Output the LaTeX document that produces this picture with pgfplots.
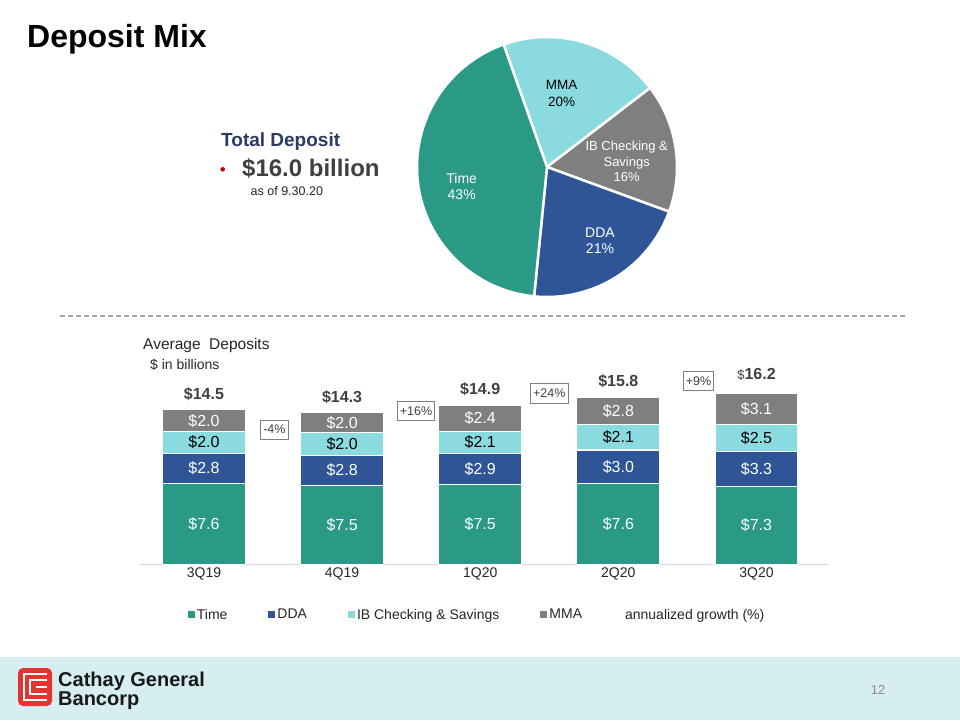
\documentclass[border=0pt]{standalone}
\usepackage{pgfplots}
\pgfplotsset{compat=1.18}
\usepackage{pgfplotstable}
\usepackage{fontspec}
\setmainfont{Liberation Sans}
\definecolor{cteal}{HTML}{2A9A87}
\definecolor{cblue}{HTML}{2F5597}
\definecolor{ccyan}{HTML}{8ADBDF}
\definecolor{cgray}{HTML}{7F7F7F}
\definecolor{navy}{HTML}{2B3A67}
\definecolor{dgray}{HTML}{404040}
\definecolor{band}{HTML}{D6EEF2}
\definecolor{logored}{HTML}{E3342F}

% average deposits ($ billions): bar heights and printed labels
\pgfplotstableread{
x time tl dda dl ib il mma ml tot
0 7.6  7.6 2.8  2.8 2.0  2.0 2.05 2.0 14.5
1 7.35 7.5 2.85 2.8 2.1  2.0 1.9  2.0 14.3
2 7.5  7.5 2.9  2.9 2.0  2.1 2.5  2.4 14.9
3 7.55 7.6 3.15 3.0 2.35 2.1 2.6  2.8 15.8
4 7.3  7.3 3.25 3.3 2.55 2.5 2.9  3.1 16.2
}\deposits

% annualized growth labels (position between bars)
\pgfplotstableread{
x y g
0.51 12.6 -4
1.535 14.35 +16
2.50 16.0 +24
3.58 17.15 +9
}\growth

\begin{document}
\begin{tikzpicture}
\path[fill=white] (0pt,0pt) rectangle (960pt,-720pt);

% title
\node[anchor=base west, inner sep=0pt, font=\bfseries\fontsize{32}{36}\selectfont] at (27pt,-47pt) {Deposit Mix};

% total deposit block
\node[anchor=base west, inner sep=0pt, text=navy, font=\bfseries\fontsize{19}{22}\selectfont] at (221pt,-146.7pt) {Total Deposit};
\fill[red!75!black] (222.7pt,-169.3pt) circle (2.3pt);
\node[anchor=base west, inner sep=0pt, text=dgray, font=\bfseries\fontsize{24}{28}\selectfont] at (242pt,-176pt) {\$16.0 billion};
\node[anchor=base west, inner sep=0pt, text=black!85, font=\fontsize{12.5}{14}\selectfont] at (250.5pt,-195.7pt) {as of 9.30.20};

% pie chart
\begin{axis}[at={(547pt,-167pt)}, anchor=center, scale only axis,
  width=280pt, height=280pt, xmin=-140, xmax=140, ymin=-140, ymax=140,
  hide axis, clip=false]
\fill[ccyan, draw=white, line width=2.5pt, line join=round] (axis cs:0,0) -- (axis cs:{130*cos(109.5)},{130*sin(109.5)}) arc[start angle=109.5, end angle={109.5-3.6*20}, radius=130pt] -- cycle;
\fill[cgray, draw=white, line width=2.5pt, line join=round] (axis cs:0,0) -- (axis cs:{130*cos(37.5)},{130*sin(37.5)}) arc[start angle=37.5, end angle={37.5-3.6*16}, radius=130pt] -- cycle;
\fill[cblue, draw=white, line width=2.5pt, line join=round] (axis cs:0,0) -- (axis cs:{130*cos(-20.1)},{130*sin(-20.1)}) arc[start angle=-20.1, end angle={-20.1-3.6*21}, radius=130pt] -- cycle;
\fill[cteal, draw=white, line width=2.5pt, line join=round] (axis cs:0,0) -- (axis cs:{130*cos(-95.7)},{130*sin(-95.7)}) arc[start angle=-95.7, end angle={-95.7-3.6*43}, radius=130pt] -- cycle;
\node[align=center, text=black, font=\fontsize{13.5}{16.5}\selectfont] at (axis cs:14.7,73.7) {MMA\\20\%};
\node[align=center, text=white, font=\fontsize{13}{15.5}\selectfont] at (axis cs:79.7,5.3) {IB Checking \&\\Savings\\16\%};
\node[align=center, text=white, font=\fontsize{14}{16.5}\selectfont] at (axis cs:53,-73.7) {DDA\\21\%};
\node[align=center, text=white, font=\fontsize{14}{16.5}\selectfont] at (axis cs:-85.3,-19.7) {Time\\43\%};
\end{axis}

% dashed separator
\draw[black!35, dash pattern=on 5pt off 3pt, line width=1.2pt] (60pt,-316pt) -- (905pt,-316pt);

% bar chart captions
\node[anchor=base west, inner sep=0pt, text=black!85, font=\fontsize{15.5}{18}\selectfont] at (143pt,-349pt) {Average\ \ Deposits};
\node[anchor=base west, inner sep=0pt, text=black!85, font=\fontsize{14}{16}\selectfont] at (150pt,-369pt) {\$ in billions};

% stacked bars
\begin{axis}[at={(140pt,-564.5pt)}, anchor=south west, scale only axis,
  width=688pt, height=214pt,
  xmin=-0.463, xmax=4.518, ymin=0, ymax=20,
  ybar stacked, bar width=83pt,
  axis x line*=bottom, axis y line=none,
  x axis line style={draw=black!15, line width=1pt},
  xtick={0,1,2,3,4}, xticklabels={3Q19,4Q19,1Q20,2Q20,3Q20},
  major tick length=0pt,
  xticklabel style={font=\fontsize{14}{16}\selectfont, text=black!85},
  clip=false,
  point meta=explicit symbolic,
  nodes near coords={\$\pgfplotspointmeta},
  legend style={at={(axis description cs:0.49,-0.235)}, anchor=center,
    draw=none, fill=none, font=\fontsize{14}{16}\selectfont, text=black!85,
    legend columns=-1,
    /tikz/every even column/.append style={column sep=39pt}},
  legend image code/.code={\path[#1,draw=none] (0pt,-3.5pt) rectangle (7pt,3.5pt);},
]
\addplot[fill=cteal, draw=white, line width=1.2pt,
  every node near coord/.append style={anchor=center, text=white, font=\fontsize{16}{18}\selectfont}]
  table[x=x, y=time, meta=tl] {\deposits};
\addlegendentry{Time}
\addplot[fill=cblue, draw=white, line width=1.2pt,
  every node near coord/.append style={anchor=center, text=white, font=\fontsize{16}{18}\selectfont}]
  table[x=x, y=dda, meta=dl] {\deposits};
\addlegendentry{DDA}
\addplot[fill=ccyan, draw=white, line width=1.2pt,
  every node near coord/.append style={anchor=center, text=black, font=\fontsize{16}{18}\selectfont}]
  table[x=x, y=ib, meta=il] {\deposits};
\addlegendentry{IB Checking \& Savings}
\addplot[fill=cgray, draw=white, line width=1.2pt,
  every node near coord/.append style={anchor=center, text=white, font=\fontsize{16}{18}\selectfont}]
  table[x=x, y=mma, meta=ml] {\deposits};
\addlegendentry{MMA}
\addlegendimage{empty legend}
\addlegendentry{annualized growth (\%)}
\end{axis}

% totals and growth boxes
\begin{axis}[at={(140pt,-564.5pt)}, anchor=south west, scale only axis,
  width=688pt, height=214pt,
  xmin=-0.463, xmax=4.518, ymin=0, ymax=20,
  hide axis, clip=false]
\addplot[only marks, mark=none, point meta=explicit symbolic,
  nodes near coords={\ifdim\pgfplotspointmeta pt>16pt\raisebox{3.5pt}{{\mdseries\fontsize{13}{15}\selectfont\$}\pgfplotspointmeta}\else\$\pgfplotspointmeta\fi},
  every node near coord/.style={anchor=base, yshift=10.5pt, inner sep=0pt, text=dgray, font=\bfseries\fontsize{16}{18}\selectfont}]
  table[x=x, y expr=\thisrow{time}+\thisrow{dda}+\thisrow{ib}+\thisrow{mma}, meta=tot] {\deposits};
\addplot[only marks, mark=none, point meta=explicit symbolic,
  nodes near coords={\pgfplotspointmeta\%},
  every node near coord/.style={anchor=center, draw=cgray, line width=0.7pt, fill=white,
    text=dgray, font=\fontsize{12.5}{14}\selectfont, inner xsep=2.5pt, inner ysep=0pt, minimum height=19.5pt}]
  table[x=x, y=y, meta=g] {\growth};
\end{axis}

% footer
\fill[band] (0pt,-657pt) rectangle (960pt,-720pt);
\fill[logored, rounded corners=5pt] (18pt,-668pt) rectangle (52pt,-706pt);
\draw[white, line width=1.6pt] (47pt,-674pt) -- (24pt,-674pt) -- (24pt,-700pt) -- (47pt,-700pt);
\draw[white, line width=1.6pt] (47pt,-680pt) -- (30pt,-680pt) -- (30pt,-694pt) -- (47pt,-694pt);
\draw[white, line width=1.6pt] (36pt,-687pt) -- (47pt,-687pt);
\node[anchor=base west, inner sep=0pt, text=black!90, font=\bfseries\fontsize{20}{20}\selectfont] at (58pt,-686pt) {Cathay General};
\node[anchor=base west, inner sep=0pt, text=black!90, font=\bfseries\fontsize{20}{20}\selectfont] at (58pt,-705pt) {Bancorp};
\node[anchor=center, text=black!45, font=\fontsize{13}{15}\selectfont] at (878pt,-690pt) {12};

\pgfresetboundingbox
\path[use as bounding box] (0pt,0pt) rectangle (960pt,-720pt);
\end{tikzpicture}
\end{document}
